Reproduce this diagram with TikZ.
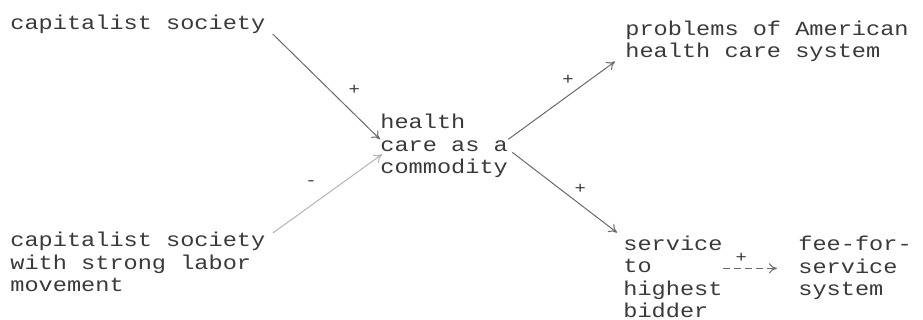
\documentclass[tikz,border=0pt]{standalone}
\usepackage{fontspec}
\usetikzlibrary{positioning,arrows.meta}
\newfontfamily\typer[FakeStretch=1.18]{Liberation Mono}
\definecolor{ink}{HTML}{3A3A3A}
\definecolor{wire}{HTML}{6A6A6A}
\definecolor{faint}{HTML}{B4B4B4}

\begin{document}
\begin{tikzpicture}[x=0.5pt,y=-0.5pt,
	concept/.style={
		anchor=base west,
		inner sep=0pt,
		align=left,
		text=ink,
		font=\typer\fontsize{10}{11.25}\selectfont
	},
	link/.style={
		draw=wire,
		line width=0.5pt,
		-{To[length=4pt,width=5pt]}
	},
	sign/.style={
		text=ink,
		inner sep=0pt,
		font=\typer\fontsize{8}{8}\selectfont
	}
]
	\useasboundingbox (0,0) rectangle (923,320);
	% causes on the left (base = last line)
	\node[concept] (capsoc) at (10,30) {capitalist society};
	\node[concept] (labor) at (10,292) {capitalist society\\with strong labor\\movement};
	% the central concept
	\node[concept] (commodity) at (380,174) {health\\care as a\\commodity};
	% effects on the right
	\node[concept] (problems) at (625,58) {problems of American\\health care system};
	\node[concept] (bidder) at (623,318) {service\\to\\highest\\bidder};
	\node[concept] (feeservice) at (798,296) {fee-for-\\service\\system};

	\draw[link] ([shift={(7,4)}]capsoc.base east) -- ([shift={(0,-7)}]commodity.west)
		node[sign,pos=.76,shift={(0,-24)}] {+};
	\draw[link,draw=faint] ([shift={(7,1)}]labor.north east) -- ([shift={(2,8)}]commodity.west)
		node[sign,pos=.35,shift={(0,-22)}] {-};
	\draw[link] ([shift={(0,-7)}]commodity.east) -- ([shift={(-10,-1)}]problems.south west)
		node[sign,pos=.56,shift={(0,-16)}] {+};
	\draw[link] ([shift={(4,6)}]commodity.east) -- ([shift={(-6,-3)}]bidder.north west)
		node[sign,pos=.65,shift={(0,-16)}] {+};
	%	\draw[link] (bidder) -- (feeservice);
	\draw[link,dash pattern=on 3.5pt off 2pt] (bidder.east |- feeservice.west) -- ([shift={(-21,0)}]feeservice.west)
		node[sign,pos=.34,shift={(0,-10)}] {+};
\end{tikzpicture}
\end{document}
